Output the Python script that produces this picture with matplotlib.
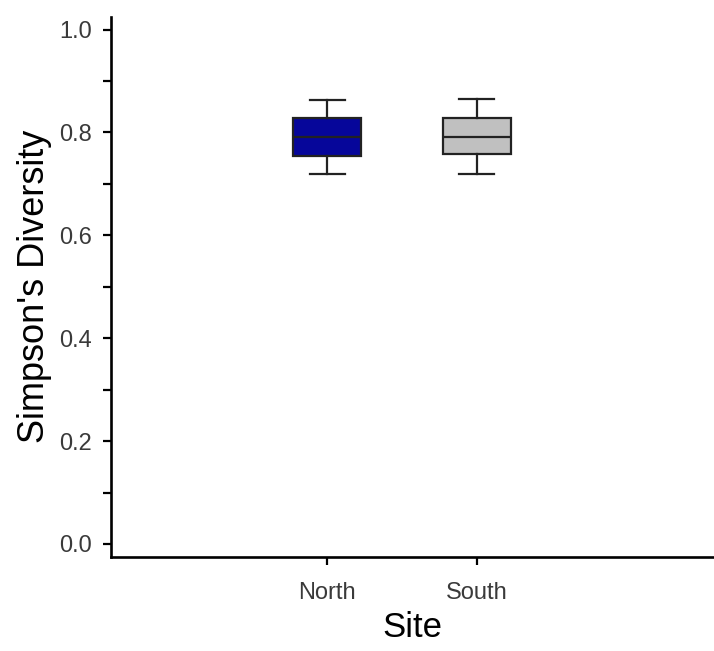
import matplotlib
matplotlib.use("Agg")
import matplotlib.pyplot as plt
from matplotlib.ticker import MultipleLocator

sites = ["North", "South"]
whislo = [0.719, 0.719]
q1 = [0.7535, 0.758]
med = [0.792, 0.792]
q3 = [0.828, 0.828]
whishi = [0.864, 0.866]
fills = ["#06069A", "#C0C0C0"]

plt.rcParams['font.family'] = ['Liberation Sans', 'DejaVu Sans']

fig = plt.figure(figsize=(7.14, 6.51), dpi=100)
ax = fig.add_axes([0.156, 0.1449, 0.844, 0.8294])

stats = []
for i, s in enumerate(sites):
    stats.append(dict(label=s, whislo=whislo[i], q1=q1[i], med=med[i],
                      q3=q3[i], whishi=whishi[i], fliers=[]))

positions = list(range(1, len(sites) + 1))
bp = ax.bxp(stats, positions=positions, widths=0.455, patch_artist=True,
            showfliers=False,
            boxprops=dict(edgecolor="#222222", linewidth=1.6),
            medianprops=dict(color="#222222", linewidth=1.6),
            whiskerprops=dict(color="#222222", linewidth=1.6),
            capprops=dict(color="#222222", linewidth=1.6),
            capwidths=0.235)
for patch, c in zip(bp['boxes'], fills):
    patch.set_facecolor(c)

ax.set_xlim(-0.444, 3.588)
ax.set_ylim(-0.0247, 1.025)
ax.yaxis.set_major_locator(MultipleLocator(0.2))
ax.yaxis.set_minor_locator(MultipleLocator(0.1))
ax.set_yticklabels([f"{v:.1f}" for v in ax.get_yticks()])
ax.set_xticks(positions)
ax.set_xticklabels(sites)

for sp in ["top", "right"]:
    ax.spines[sp].set_visible(False)
for sp in ["left", "bottom"]:
    ax.spines[sp].set_linewidth(1.9)
    ax.spines[sp].set_color("black")

ax.tick_params(axis='both', which='both', direction='out', length=6, width=1.6,
               colors='black', labelcolor='#3a3a3a', labelsize=17, pad=8)
ax.tick_params(axis='x', pad=12)

ax.set_xlabel("Site", fontsize=25, labelpad=5)
ax.set_ylabel("Simpson's Diversity", fontsize=26, labelpad=5)

fig.savefig("out.png", dpi=100)
